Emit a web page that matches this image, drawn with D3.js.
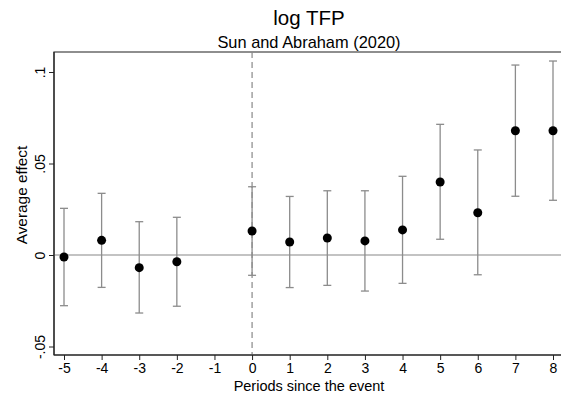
<!DOCTYPE html>
<html><head><meta charset="utf-8">
<script src="https://cdn.jsdelivr.net/npm/d3@7"></script>
<style>body{margin:0;background:#fff}svg{display:block;font-family:"Liberation Sans",Arial,sans-serif}</style>
</head><body><svg id="c" width="561" height="401"></svg>
<script>
const periods = [-5,-4,-3,-2,0,1,2,3,4,5,6,7,8];
const estimates = [-0.0011,0.0080,-0.0069,-0.0037,0.0131,0.0071,0.0093,0.0077,0.0137,0.0399,0.0231,0.0679,0.0679];
const ciLow = [-0.0277,-0.0177,-0.0317,-0.0280,-0.0111,-0.0178,-0.0166,-0.0197,-0.0155,0.0086,-0.0108,0.0321,0.0299];
const ciHigh = [0.0255,0.0337,0.0182,0.0206,0.0373,0.0320,0.0351,0.0351,0.0430,0.0714,0.0574,0.1038,0.1060];
const xTicks = [-5,-4,-3,-2,-1,0,1,2,3,4,5,6,7,8];
const xTickLabels = ["-5","-4","-3","-2","-1","0","1","2","3","4","5","6","7","8"];
const yTicks = [-0.05,0,0.05,0.1];
const yTickLabels = ["-.05","0",".05",".1"];

const svg = d3.select("#c");
const L=54, R=561, T=52, B=355;
const x = d3.scaleLinear().domain([-5,8]).range([64,553]);
const y = d3.scaleLinear().domain([0,0.1]).range([255,72]);

// frame
svg.append("rect").attr("x",L).attr("y",T).attr("width",R-L+5).attr("height",B-T)
  .attr("fill","none").attr("stroke","#444").attr("stroke-width",1.2);

// zero line
svg.append("line").attr("x1",L).attr("x2",R).attr("y1",y(0)).attr("y2",y(0))
  .attr("stroke","#888").attr("stroke-width",1.2);
// dashed vertical at 0
svg.append("line").attr("x1",x(0)).attr("x2",x(0)).attr("y1",T).attr("y2",B)
  .attr("stroke","#888").attr("stroke-width",1.2).attr("stroke-dasharray","6,4");

// axes
const ax = svg.append("g").attr("transform",`translate(0,${B})`)
  .call(d3.axisBottom(x).tickValues(xTicks).tickFormat((d,i)=>xTickLabels[i]).tickSize(5).tickSizeOuter(0));
ax.select(".domain").attr("stroke","#222").attr("stroke-width",1.2).attr("d",`M${L},0H${R}`);
ax.selectAll(".tick line").attr("stroke","#222");
ax.selectAll(".tick text").attr("font-size",14).attr("fill","#000").attr("y",7).attr("dy","0.8em");

const ay = svg.append("g").attr("transform",`translate(${L},0)`)
  .call(d3.axisLeft(y).tickValues(yTicks).tickFormat((d,i)=>yTickLabels[i]).tickSize(5).tickSizeOuter(0));
ay.select(".domain").attr("stroke","#222").attr("stroke-width",1.2).attr("d",`M0,${T}V${B}`);
ay.selectAll(".tick line").attr("stroke","#222");
ay.selectAll(".tick text").attr("font-size",14).attr("fill","#000")
  .attr("text-anchor","middle").attr("x",0).attr("dy",0)
  .attr("transform","translate(-9,0) rotate(-90)");

// error bars
const g = svg.append("g");
const data = periods.map((p,i)=>({p,e:estimates[i],lo:ciLow[i],hi:ciHigh[i]}));
g.selectAll(".eb").data(data).enter().append("line")
  .attr("x1",d=>x(d.p)).attr("x2",d=>x(d.p)).attr("y1",d=>y(d.lo)).attr("y2",d=>y(d.hi))
  .attr("stroke","#8c8c8c").attr("stroke-width",1.3);
["lo","hi"].forEach(k=>{
  g.selectAll(".cap"+k).data(data).enter().append("line")
    .attr("x1",d=>x(d.p)-4).attr("x2",d=>x(d.p)+4).attr("y1",d=>y(d[k])).attr("y2",d=>y(d[k]))
    .attr("stroke","#8c8c8c").attr("stroke-width",1.3);
});
g.selectAll("circle").data(data).enter().append("circle")
  .attr("cx",d=>x(d.p)).attr("cy",d=>y(d.e)).attr("r",4.5).attr("fill","#000");

// titles
svg.append("text").attr("x",309).attr("y",25).attr("text-anchor","middle").attr("font-size",20.5).text("log TFP");
svg.append("text").attr("x",309).attr("y",48).attr("text-anchor","middle").attr("font-size",16.4).text("Sun and Abraham (2020)");
svg.append("text").attr("x",309).attr("y",391).attr("text-anchor","middle").attr("font-size",14.5).text("Periods since the event");
svg.append("text").attr("transform","translate(27,195) rotate(-90)").attr("text-anchor","middle").attr("font-size",15.4).text("Average effect");
</script></body></html>
